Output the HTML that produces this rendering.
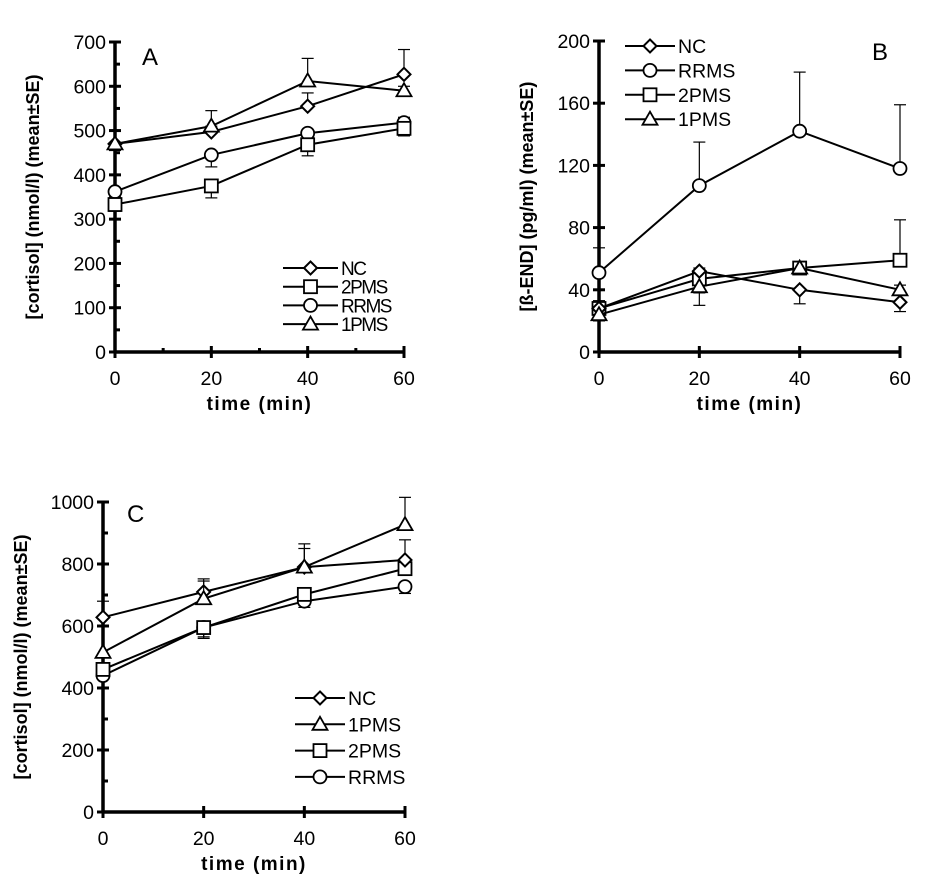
<!DOCTYPE html>
<html><head><meta charset="utf-8"><style>
body{margin:0;background:#fff;}
svg{display:block;font-family:"Liberation Sans",sans-serif;}
</style></head><body>
<svg id="fig" width="929" height="882" viewBox="0 0 929 882"></svg>
<script>
const times=[0,20,40,60];
// Panel A
const aNC=[470,497,555,627], aNCerr=[470,510,585,683];
const a2P=[333,375,468,505], a2Perr=[318,348,443,488];
const aRR=[362,445,494,518], aRRerr=[350,418,478,530];
const a1P=[470,510,612,590], a1Perr=[455,545,663,600];
const aTicks=[0,100,200,300,400,500,600,700];
// Panel B
const bNC=[28,52,40,32], bNCerr=[24,54,31,26];
const bRR=[51,107,142,118], bRRerr=[67,135,180,159];
const b2P=[28,47,54,59], b2Perr=[33,38,58,85];
const b1P=[24,42,54,40], b1Perr=[20,30,58,43];
const bTicks=[0,40,80,120,160,200];
// Panel C
const cNC=[628,710,790,813], cNCerr=[680,752,865,878];
const c1P=[515,688,790,927], c1Perr=[500,745,850,1015];
const c2P=[460,595,702,785], c2Perr=[445,560,690,770];
const cRR=[440,595,680,727], cRRerr=[398,565,660,705];
const cTicks=[0,200,400,600,800,1000];
const xTicks=[0,20,40,60];

const NS="http://www.w3.org/2000/svg";
const svg=document.getElementById('fig');
function el(tag,attrs,parent,txt){const e=document.createElementNS(NS,tag);for(const k in attrs)e.setAttribute(k,attrs[k]);if(txt!==undefined)e.textContent=txt;(parent||svg).appendChild(e);return e;}

function marker(g,shape,x,y){
  let m;
  if(shape==='diamond') m=el('polygon',{points:`${x},${y-6.5} ${x+6.5},${y} ${x},${y+6.5} ${x-6.5},${y}`,fill:'#fff',stroke:'#000','stroke-width':2},g);
  else if(shape==='square') m=el('rect',{x:x-6.5,y:y-6.5,width:13,height:13,fill:'#fff',stroke:'#000','stroke-width':1.8},g);
  else if(shape==='circle') m=el('circle',{cx:x,cy:y,r:6.5,fill:'#fff',stroke:'#000','stroke-width':1.8},g);
  else m=el('polygon',{points:`${x},${y-7.5} ${x+7.5},${y+5.5} ${x-7.5},${y+5.5}`,fill:'#fff',stroke:'#000','stroke-width':1.8},g);
  return m;
}

function panel(cfg){
  const g=el('g',{});
  
  
  const sx=v=>cfg.x0+(cfg.x1-cfg.x0)*v/60;
  const sy=v=>cfg.y0-(cfg.y0-cfg.y1)*v/cfg.ymax;
  const ax=el('g',{},g);
  
  
  el('line',{x1:cfg.x0,y1:sy(0),x2:sx(60),y2:sy(0),stroke:'#000','stroke-width':3.5},ax);
  el('line',{x1:cfg.x0,y1:sy(0),x2:cfg.x0,y2:sy(cfg.ymax),stroke:'#000','stroke-width':3.5},ax);
  cfg.yTicks.forEach(t=>{
    el('line',{x1:cfg.x0-6,y1:sy(t),x2:cfg.x0+6,y2:sy(t),stroke:'#000','stroke-width':3},ax);
    const tl=el('text',{x:cfg.x0-9,y:sy(t)+7,'text-anchor':'end','font-size':19.5,fill:'#000'},ax,t);
    
    
  });
  if(cfg.minorY){const step=cfg.yTicks[1]-cfg.yTicks[0];for(let v=step/2;v<cfg.ymax;v+=step)el('line',{x1:cfg.x0,y1:sy(v),x2:cfg.x0+5,y2:sy(v),stroke:'#000','stroke-width':3},ax);}
  xTicks.forEach(t=>{
    el('line',{x1:sx(t),y1:sy(0)-6,x2:sx(t),y2:sy(0)+6,stroke:'#000','stroke-width':3},ax);
    const tl=el('text',{x:sx(t),y:sy(0)+33,'text-anchor':'middle','font-size':19.5,fill:'#000'},ax,t);
    
    
  });
  if(cfg.minorX){[10,30,50].forEach(t=>el('line',{x1:sx(t),y1:sy(0)-4,x2:sx(t),y2:sy(0),stroke:'#000','stroke-width':3},ax));}
  const xt=el('text',{x:(cfg.x0+sx(60))/2,y:sy(0)+58,'text-anchor':'middle','font-size':19,'font-weight':'bold','letter-spacing':1.5},g,'time (min)');
  
  
  const ytx=cfg.ytx, yty=(sy(0)+sy(cfg.ymax))/2;
  const yt=el('text',{x:ytx,y:yty,'text-anchor':'middle','font-size':18,'font-weight':'bold',transform:`rotate(-90 ${ytx} ${yty})`},g,cfg.ytitle);
  
  
  const lt=el('text',{x:cfg.lx,y:cfg.ly,'font-size':24,fill:'#000'},g,cfg.letter);
  
  
  cfg.series.forEach(s=>{
    const sg=el('g',{},g);
    
    
    s.err.forEach((e,i)=>{
      const x=sx(times[i]);
      el('line',{x1:x,y1:sy(s.vals[i]),x2:x,y2:sy(e),stroke:'#000','stroke-width':1.2},sg);
      el('line',{x1:x-6,y1:sy(e),x2:x+6,y2:sy(e),stroke:'#000','stroke-width':1.2},sg);
    });
    el('polyline',{points:s.vals.map((v,i)=>sx(times[i])+','+sy(v)).join(' '),fill:'none',stroke:'#000','stroke-width':2},sg);
    s.vals.forEach((v,i)=>{const m=marker(sg,s.shape,sx(times[i]),sy(v));});
  });
  const lg=el('g',{},g);
  
  
  cfg.legend.forEach((s,i)=>{
    const y=cfg.legY+i*cfg.legDy;
    const le=el('g',{},lg);
    
    
    el('line',{x1:cfg.legX,y1:y,x2:cfg.legX+cfg.legW,y2:y,stroke:'#000','stroke-width':2},le);
    marker(le,s.shape,cfg.legX+cfg.legW/2,y);
    el('text',{x:cfg.legX+cfg.legW+3,y:y+7,'font-size':cfg.legFs,'letter-spacing':cfg.legLs||0},le,s.label);
  });
}

const sA={NC:{label:'NC',shape:'diamond',vals:aNC,err:aNCerr},P2:{label:'2PMS',shape:'square',vals:a2P,err:a2Perr},RR:{label:'RRMS',shape:'circle',vals:aRR,err:aRRerr},P1:{label:'1PMS',shape:'triangle',vals:a1P,err:a1Perr}};
panel({name:'panel-a',x0:115,x1:404,y0:352,y1:42,ymax:700,yTicks:aTicks,minorY:true,minorX:true,ytx:39,ytitle:'[cortisol] (nmol/l) (mean±SE)',letter:'A',lx:142,ly:65,
  series:[sA.RR,sA.P2,sA.NC,sA.P1],legend:[sA.NC,sA.P2,sA.RR,sA.P1],legX:283,legW:55,legY:268,legDy:18.7,legFs:19,legLs:-1.5});
const sB={NC:{label:'NC',shape:'diamond',vals:bNC,err:bNCerr},RR:{label:'RRMS',shape:'circle',vals:bRR,err:bRRerr},P2:{label:'2PMS',shape:'square',vals:b2P,err:b2Perr},P1:{label:'1PMS',shape:'triangle',vals:b1P,err:b1Perr}};
panel({name:'panel-b',x0:599,x1:900,y0:352,y1:41,ymax:200,yTicks:bTicks,minorY:false,minorX:false,ytx:533,ytitle:'[ß-END] (pg/ml) (mean±SE)',letter:'B',lx:872,ly:60,
  series:[sB.RR,sB.P2,sB.NC,sB.P1],legend:[sB.NC,sB.RR,sB.P2,sB.P1],legX:625,legW:50,legY:46,legDy:24.4,legFs:19.5});
const sC={NC:{label:'NC',shape:'diamond',vals:cNC,err:cNCerr},P1:{label:'1PMS',shape:'triangle',vals:c1P,err:c1Perr},P2:{label:'2PMS',shape:'square',vals:c2P,err:c2Perr},RR:{label:'RRMS',shape:'circle',vals:cRR,err:cRRerr}};
panel({name:'panel-c',x0:103,x1:405,y0:812,y1:502,ymax:1000,yTicks:cTicks,minorY:true,minorX:false,ytx:27,ytitle:'[cortisol] (nmol/l) (mean±SE)',letter:'C',lx:127,ly:522,
  series:[sC.RR,sC.P2,sC.NC,sC.P1],legend:[sC.NC,sC.P1,sC.P2,sC.RR],legX:295,legW:50,legY:698,legDy:26.3,legFs:19.5});
</script>
</body></html>
